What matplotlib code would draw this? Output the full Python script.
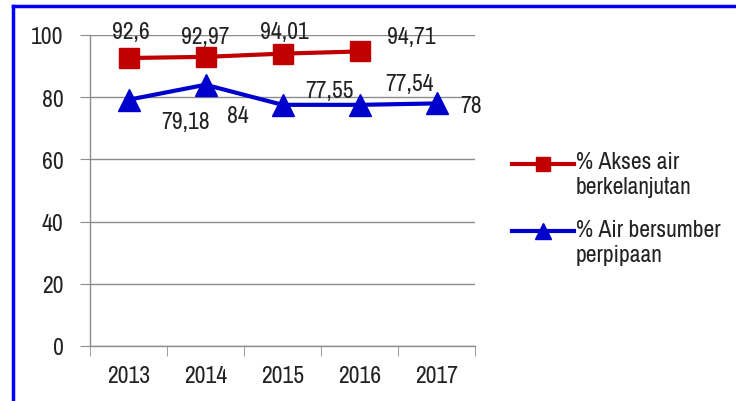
import matplotlib.pyplot as plt
from matplotlib.lines import Line2D
from matplotlib.legend_handler import HandlerLine2D
import numpy as np

years = ["2013", "2014", "2015", "2016", "2017"]
akses = [92.6, 92.97, 94.01, 94.71]
akses_labels = ["92,6", "92,97", "94,01", "94,71"]
pipa = [79.18, 84, 77.55, 77.54, 78]
pipa_labels = ["79,18", "84", "77,55", "77,54", "78"]

# label offsets (pixels) - the source chart has them shifted oddly
akses_off = [(2, 27), (0, 20), (2, 22), (52, 15)]
pipa_off = [(57, -22), (32, -31), (47, 14), (50, 21), (35, -2)]

plt.rcParams['font.family'] = ['Archivo Narrow', 'Liberation Sans', 'DejaVu Sans']
FS = 17


class TopHandler(HandlerLine2D):
    # put the legend line next to the first text line
    def create_artists(self, legend, orig_handle, xdescent, ydescent, width,
                       height, fontsize, trans):
        return super().create_artists(legend, orig_handle, xdescent, ydescent - 16,
                                      width, height, fontsize, trans)


fig = plt.figure(figsize=(7.36, 4.02), dpi=100)
ax = fig.add_axes([90 / 736, 1 - 347 / 402, 385 / 736, 311 / 402])

x = np.arange(len(years))
l1, = ax.plot(x[:len(akses)], akses, color='#C00000', lw=3, marker='s', ms=14,
              label='% Akses air\nberkelanjutan', zorder=3)
l2, = ax.plot(x, pipa, color='#0000CC', lw=3, marker='^', ms=16,
              label='% Air bersumber\nperpipaan', zorder=3)

for xi, v, s, off in zip(x, akses, akses_labels, akses_off):
    ax.annotate(s, (xi, v), xytext=off, textcoords='offset pixels',
                ha='center', va='center', fontsize=FS, color='#222222')
for xi, v, s, off in zip(x, pipa, pipa_labels, pipa_off):
    ax.annotate(s, (xi, v), xytext=off, textcoords='offset pixels',
                ha='center', va='center', fontsize=FS, color='#222222')

ax.set_xlim(-0.5, len(years) - 0.5)
ax.set_ylim(0, 100)
ax.set_yticks(range(0, 101, 20))
ax.yaxis.grid(True, color='#8c8c8c', lw=1)
ax.set_axisbelow(True)

ax.set_xticks(x)
ax.set_xticklabels(years)
ax.set_xticks(np.arange(-0.5, len(years)), minor=True)
ax.tick_params(axis='x', which='major', length=0, pad=14, labelsize=FS, colors='#222222')
ax.tick_params(axis='x', which='minor', length=7, color='#8c8c8c', direction='out')
ax.tick_params(axis='y', length=7, color='#8c8c8c', pad=12, labelsize=FS, labelcolor='#222222')

for side in ['top', 'right']:
    ax.spines[side].set_visible(False)
for side in ['left', 'bottom']:
    ax.spines[side].set_color('#8c8c8c')
    ax.spines[side].set_linewidth(1)

leg = fig.legend(handles=[l1, l2], loc='upper left',
                 bbox_to_anchor=(491 / 736, 1 - 131 / 402),
                 frameon=False, fontsize=FS, handlelength=2.6, handletextpad=0.1,
                 labelspacing=0.9, markerscale=0.75,
                 handler_map={l1: TopHandler(), l2: TopHandler()})
for t in leg.get_texts():
    t.set_color('#222222')
    t.set_linespacing(1.25)

# blue frame (left and top edges visible in source)
fig.add_artist(Line2D([13 / 736, 13 / 736], [0, 1 - 7 / 402], color='#0000FF', lw=2.5,
                      transform=fig.transFigure))
fig.add_artist(Line2D([13 / 736, 1], [1 - 7 / 402, 1 - 7 / 402], color='#0000FF', lw=2.5,
                      transform=fig.transFigure))

fig.savefig('out.png', dpi=100)
